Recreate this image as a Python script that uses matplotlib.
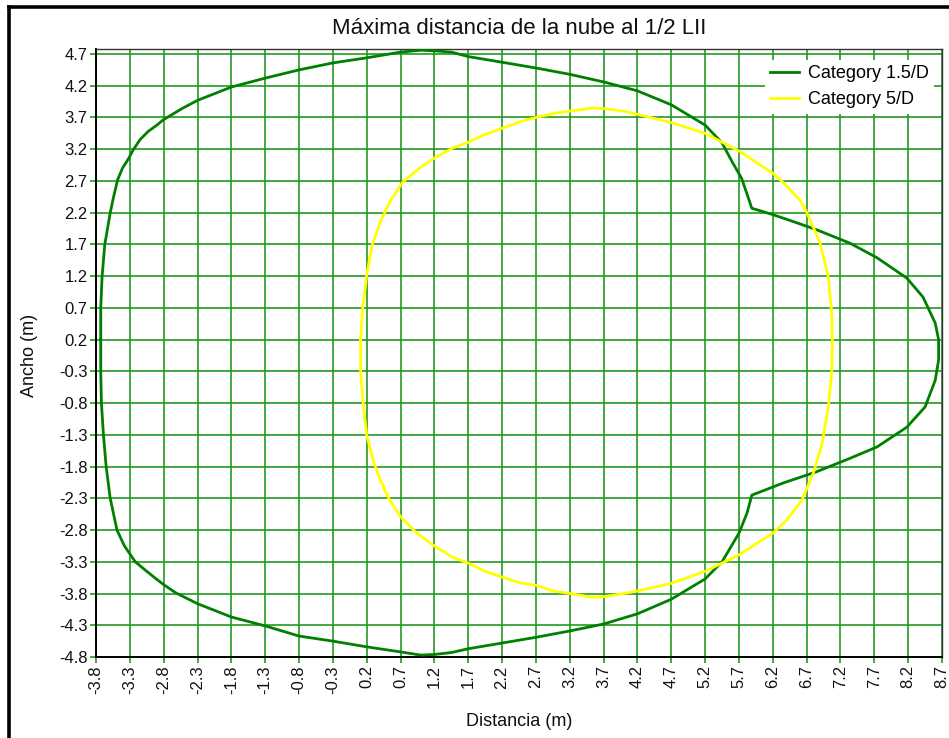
import matplotlib
matplotlib.use('Agg')
import matplotlib.pyplot as plt
from matplotlib.lines import Line2D

plt.rcParams['font.family'] = ['Liberation Sans', 'DejaVu Sans']

# Contorno de la nube - Category 1.5/D (x = distancia, y = ancho)
x_15d = [-3.73, -3.73, -3.71, -3.67, -3.59, -3.54, -3.48, -3.41, -3.32, -3.25, -3.15, -3.03, -2.90,
         -2.81, -2.53, -2.30, -1.80, -1.30,
         -0.80, -0.30, 0.20, 0.70, 1.00, 1.20, 1.45, 1.70, 2.20, 2.70, 3.20, 3.70, 4.20, 4.70,
         5.20, 5.45, 5.60, 5.74, 5.89, 6.20, 6.53, 6.85, 7.34, 7.74, 8.18, 8.42, 8.60, 8.65,
         8.65, 8.60, 8.45, 8.18, 7.74, 7.34, 6.85, 6.35, 5.89, 5.82, 5.70, 5.45, 5.20, 4.70,
         4.20, 3.70, 3.20, 2.70, 2.20, 1.70, 1.45, 1.20, 1.00, 0.70, 0.20, -0.30, -0.80, -1.30,
         -1.80, -2.30, -2.62, -2.80, -2.91, -3.05, -3.22, -3.38, -3.49, -3.59, -3.65, -3.69,
         -3.72, -3.73, -3.73]
y_15d = [0.20, 0.70, 1.20, 1.70, 2.20, 2.45, 2.72, 2.90, 3.05, 3.19, 3.35, 3.48, 3.58,
         3.66, 3.84, 3.97, 4.18, 4.32,
         4.45, 4.56, 4.64, 4.73, 4.76, 4.75, 4.73, 4.66, 4.57, 4.48, 4.38, 4.26, 4.12, 3.90,
         3.58, 3.30, 3.00, 2.74, 2.27, 2.17, 2.05, 1.93, 1.72, 1.49, 1.17, 0.87, 0.46, 0.20,
         -0.12, -0.44, -0.86, -1.18, -1.49, -1.67, -1.88, -2.06, -2.25, -2.53, -2.85, -3.30, -3.57, -3.89,
         -4.12, -4.28, -4.39, -4.49, -4.58, -4.67, -4.73, -4.76, -4.77, -4.72, -4.64, -4.55, -4.47, -4.31,
         -4.17, -3.96, -3.79, -3.66, -3.57, -3.45, -3.30, -3.05, -2.80, -2.30, -1.80, -1.30,
         -0.80, -0.30, 0.20]

# Contorno de la nube - Category 5/D
x_5d = [0.11, 0.14, 0.17, 0.20, 0.28, 0.40, 0.54, 0.73, 1.00, 1.20, 1.47, 1.70, 1.92, 2.20,
        2.46, 2.70, 3.00, 3.20, 3.54, 3.70, 4.00, 4.20, 4.70, 5.20, 5.72, 6.20, 6.35, 6.60,
        6.70, 6.90, 7.02, 7.07, 7.08, 7.07, 7.02, 6.93, 6.80, 6.63, 6.41, 6.20, 5.70, 5.20,
        4.70, 4.20, 4.00, 3.70, 3.54, 3.20, 2.96, 2.70, 2.46, 2.20, 1.97, 1.70, 1.47, 1.20,
        0.94, 0.70, 0.53, 0.40, 0.30, 0.20, 0.17, 0.14, 0.11, 0.11]
y_5d = [0.20, 0.70, 0.95, 1.22, 1.69, 2.05, 2.37, 2.68, 2.92, 3.06, 3.22, 3.31, 3.42, 3.53,
        3.63, 3.70, 3.77, 3.80, 3.85, 3.84, 3.80, 3.75, 3.62, 3.45, 3.16, 2.82, 2.68, 2.40,
        2.21, 1.72, 1.19, 0.62, 0.20, -0.33, -0.86, -1.43, -1.90, -2.33, -2.64, -2.85, -3.19, -3.45,
        -3.64, -3.76, -3.80, -3.85, -3.86, -3.80, -3.76, -3.67, -3.63, -3.54, -3.46, -3.32, -3.23, -3.05,
        -2.85, -2.59, -2.31, -2.01, -1.72, -1.30, -1.02, -0.70, -0.30, 0.20]

# Marcas de los ejes
x_ticks = [-3.8, -3.3, -2.8, -2.3, -1.8, -1.3, -0.8, -0.3, 0.2, 0.7, 1.2, 1.7, 2.2, 2.7,
           3.2, 3.7, 4.2, 4.7, 5.2, 5.7, 6.2, 6.7, 7.2, 7.7, 8.2, 8.7]
y_ticks = [-4.8, -4.3, -3.8, -3.3, -2.8, -2.3, -1.8, -1.3, -0.8, -0.3, 0.2, 0.7, 1.2, 1.7,
           2.2, 2.7, 3.2, 3.7, 4.2, 4.7]

grid_green = '#229922'

fig = plt.figure(figsize=(9.49, 7.38), dpi=100)
ax = fig.add_axes([96 / 949, 1 - 657 / 738, 846 / 949, 608 / 738])

ax.plot(x_15d, y_15d, color='#008000', lw=2.0, label='Category 1.5/D', zorder=3)
ax.plot(x_5d, y_5d, color='#ffff00', lw=2.0, label='Category 5/D', zorder=3)

ax.set_xlim(-3.8, 8.7)
ax.set_ylim(-4.8, 4.779)
ax.set_xticks(x_ticks)
ax.set_xticklabels([f'{t:.1f}' for t in x_ticks], rotation=90)
ax.set_yticks(y_ticks)
ax.set_yticklabels([f'{t:.1f}' for t in y_ticks])
ax.tick_params(direction='out', length=4, width=1.2, color=grid_green, labelsize=12,
               labelcolor='#111111', pad=2)

ax.set_axisbelow(True)
ax.grid(True, color=grid_green, lw=1.2)

for side in ['left', 'bottom']:
    ax.spines[side].set_color('black')
    ax.spines[side].set_linewidth(1.4)
for side in ['top', 'right']:
    ax.spines[side].set_color('#333333')
    ax.spines[side].set_linewidth(1.0)

leg = ax.legend(loc='upper right', bbox_to_anchor=(0.995, 0.988), fontsize=13,
                frameon=True, fancybox=False, framealpha=1, edgecolor='none',
                facecolor='white', handlelength=1.6, handletextpad=0.5,
                labelspacing=0.5, borderpad=0.3, borderaxespad=0.2)

# Titulo y etiquetas (centrados sobre el area del grafico)
cx = (96 + 942) / 2 / 949
fig.text(cx, 1 - 28 / 738, 'Máxima distancia de la nube al 1/2 LII', ha='center', va='center',
         fontsize=16, color='#111111')
fig.text(cx, 1 - 722 / 738, 'Distancia (m)', ha='center', va='center', fontsize=13,
         color='#111111')
fig.text(30 / 949, 1 - 355 / 738, 'Ancho (m)', ha='center', va='center', rotation=90,
         fontsize=13, color='#111111')

# Marco negro de la figura (solo lados izquierdo y superior visibles)
fig.add_artist(Line2D([8.5 / 949, 8.5 / 949], [0, 1 - 7 / 738], color='black', lw=2.6,
                      transform=fig.transFigure))
fig.add_artist(Line2D([8.5 / 949, 1], [1 - 7 / 738, 1 - 7 / 738], color='black', lw=2.6,
                      transform=fig.transFigure))

fig.savefig('out.png', dpi=100)
